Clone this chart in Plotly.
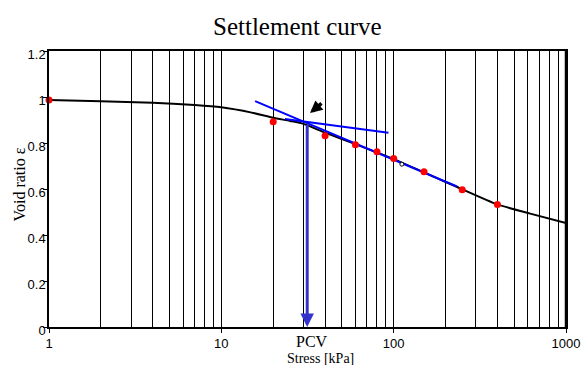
import math
import plotly.graph_objects as go

# ---- data ----
stress_kpa = [1, 20, 40, 60, 80, 100, 150, 250, 400]
void_ratio = [0.987, 0.892, 0.831, 0.792, 0.762, 0.733, 0.675, 0.597, 0.533]

curve_stress = [1, 2, 4, 7, 10, 15, 20, 25, 30, 40, 60, 100, 150, 230, 400, 620, 1000]
curve_void = [0.987, 0.981, 0.975, 0.965, 0.955, 0.932, 0.910, 0.896, 0.883, 0.845, 0.795,
              0.730, 0.672, 0.611, 0.533, 0.493, 0.452]

steep_stress = [15.7, 233]
steep_void = [0.982, 0.611]

flat_stress = [23.4, 93.3]
flat_void = [0.904, 0.845]

marker_stress = [111.6]
marker_void = [0.708]

pcv_stress = 31.5
pcv_void = 0.885

pointer_stress = 32.7
pointer_void = 0.930

x_ticks = [1, 10, 100, 1000]
x_minor = [m * d for d in (1, 10, 100) for m in range(2, 10)]
y_ticks = [0, 0.2, 0.4, 0.6, 0.8, 1, 1.2]
y_labels = ["0", "0.2", "0.4", "0.6", "0.8", "1", "1.2"]

SERIF = "Liberation Serif, Times New Roman, serif"
SANS = "Liberation Sans, Arial, sans-serif"

fig = go.Figure()

fig.add_trace(go.Scatter(x=curve_stress, y=curve_void, mode="lines",
                         line=dict(color="black", width=2, shape="spline", smoothing=0.6),
                         hoverinfo="skip", showlegend=False))
fig.add_trace(go.Scatter(x=steep_stress, y=steep_void, mode="lines",
                         line=dict(color="#0000ff", width=2), showlegend=False))
fig.add_trace(go.Scatter(x=flat_stress, y=flat_void, mode="lines",
                         line=dict(color="#0000ff", width=2), showlegend=False))
fig.add_trace(go.Scatter(x=stress_kpa, y=void_ratio, mode="markers",
                         marker=dict(color="#ff0000", size=7), showlegend=False,
                         cliponaxis=False))
fig.add_trace(go.Scatter(x=marker_stress, y=marker_void, mode="markers",
                         marker=dict(color="white", size=4, line=dict(color="black", width=1)),
                         showlegend=False))

annotations = [
    # vertical PCV arrow
    dict(x=math.log10(pcv_stress), y=0, ax=math.log10(pcv_stress), ay=pcv_void,
         xref="x", yref="y", axref="x", ayref="y", text="", showarrow=True,
         arrowhead=2, arrowsize=0.9, arrowwidth=3, arrowcolor="#3333cc", standoff=0),
    # small black pointer arrow (tail up-right, head down-left)
    dict(x=math.log10(pointer_stress), y=pointer_void, ax=13, ay=-11, xref="x", yref="y",
         text="", showarrow=True,
         arrowhead=2, arrowsize=0.7, arrowwidth=3.5, arrowcolor="black", standoff=0),
    dict(x=math.log10(33.8), y=-0.0530, xref="x", yref="paper", text="PCV", showarrow=False,
         font=dict(family=SERIF, size=16, color="black"), xanchor="center", yanchor="middle"),
    dict(x=math.log10(37.8), y=-0.1140, xref="x", yref="paper", text="Stress [kPa]",
         showarrow=False,
         font=dict(family=SERIF, size=14, color="black"), xanchor="center", yanchor="middle"),
    dict(x=-0.0567, y=0.515, xref="paper", yref="paper", text="Void ratio ε", showarrow=False,
         textangle=-90, font=dict(family=SERIF, size=16, color="black"),
         xanchor="center", yanchor="middle"),
    dict(x=0.481, y=1.088, xref="paper", yref="paper", text="Settlement curve", showarrow=False,
         font=dict(family=SERIF, size=25, color="black"), xanchor="center", yanchor="middle"),
]

fig.update_layout(
    width=584, height=365,
    margin=dict(l=49, r=18, t=51, b=37.5, pad=0, autoexpand=False),
    paper_bgcolor="white", plot_bgcolor="white",
    annotations=annotations,
    shapes=[dict(type="line", xref="paper", yref="paper", x0=1, x1=1, y0=0, y1=1,
                 line=dict(color="black", width=2.5))],
    showlegend=False,
)

fig.update_xaxes(type="log", range=[0, 3], tickvals=x_ticks, ticktext=[str(v) for v in x_ticks],
                 automargin=False,
                 showgrid=True, gridcolor="black", gridwidth=1,
                 minor=dict(tickvals=x_minor, showgrid=True, gridcolor="black", gridwidth=1, ticks=""),
                 showline=True, linecolor="black", linewidth=1.5, mirror=True,
                 ticks="outside", ticklen=4, tickcolor="black",
                 tickfont=dict(family=SANS, size=13, color="black"), zeroline=False)
fig.update_yaxes(range=[0, 1.2], tickvals=y_ticks, ticktext=y_labels, showgrid=False,
                 automargin=False,
                 showline=True, linecolor="black", linewidth=1.5, mirror=True,
                 ticks="outside", ticklen=4, tickcolor="black",
                 ticklabelstandoff=-5, ticklabelshift=3,
                 tickfont=dict(family=SANS, size=13, color="black"), zeroline=False)

fig.write_html("out.html")
